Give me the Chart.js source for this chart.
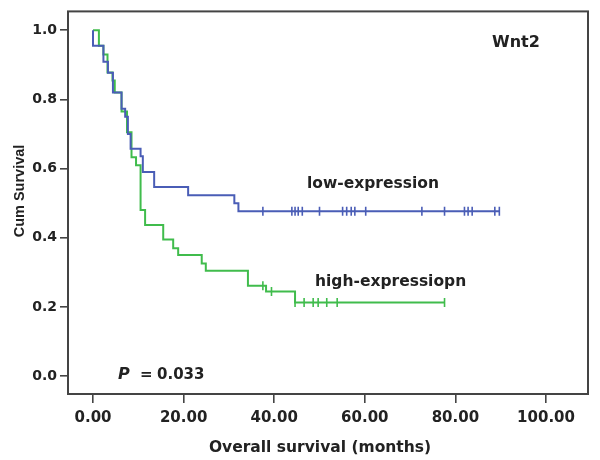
<!DOCTYPE html>
<html><head><meta charset="utf-8">
<script src="https://cdn.jsdelivr.net/npm/chart.js@4.4.1/dist/chart.umd.min.js"></script>
<style>html,body{margin:0;padding:0;background:#fff}#wrap{width:600px;height:460px}</style>
</head><body><div id="wrap"><canvas id="c" width="600" height="460"></canvas></div>
<script>
// ---- data ----
const lowTimes = [0, 0, 2.3, 3.3, 4.4, 6.3, 7.1, 7.7, 8.3, 10.5, 11.0, 13.5, 21.0, 31.2, 32.1, 89.7];
const lowSurv  = [1.0, 0.955, 0.909, 0.877, 0.82, 0.773, 0.75, 0.70, 0.657, 0.636, 0.59, 0.547, 0.523, 0.5, 0.477, 0.477];
const lowCensorTimes = [37.5, 43.9, 44.6, 45.3, 46.2, 50.0, 55.1, 56.0, 57.0, 57.8, 60.2, 72.6, 77.6, 82.0, 82.8, 83.7, 88.7, 89.7];

const highTimes = [0, 1.3, 2.3, 3.2, 4.3, 4.8, 6.3, 7.5, 8.5, 9.5, 10.5, 11.5, 15.5, 17.7, 18.8, 24.0, 24.9, 34.2, 38.2, 44.6, 77.6];
const highSurv  = [1.0, 0.955, 0.93, 0.878, 0.855, 0.82, 0.765, 0.705, 0.633, 0.61, 0.48, 0.437, 0.395, 0.37, 0.35, 0.326, 0.305, 0.261, 0.245, 0.213, 0.213];
const highCensorTimes = [37.5, 39.4, 44.6, 46.6, 48.6, 49.7, 51.6, 53.9, 77.6];

const xTickValues = [0, 20, 40, 60, 80, 100];
const xTickLabels = ["0.00", "20.00", "40.00", "60.00", "80.00", "100.00"];
const yTickValues = [0, 0.2, 0.4, 0.6, 0.8, 1.0];
const yTickLabels = ["0.0", "0.2", "0.4", "0.6", "0.8", "1.0"];

const seriesNames = ["low-expression", "high-expressiopn"];
const panelTitle = "Wnt2";
const pLabel = "P";
const pValue = "0.033";
const xTitle = "Overall survival (months)";
const yTitle = "Cum Survival";

// ---- build library tables ----
const BLUE = '#4A5DB6', GREEN = '#40BC4C', INK = '#222';
function curve(ts, vs) { return ts.map((t, i) => ({x: t, y: vs[i]})); }
function survAt(ts, vs, t) { let v = vs[0]; for (let i = 0; i < ts.length; i++) { if (ts[i] <= t) v = vs[i]; } return v; }
function censors(cts, ts, vs) { return cts.map(t => ({x: t, y: survAt(ts, vs, t)})); }

const FONT = '"DejaVu Sans", Verdana, sans-serif';

const textPlugin = {
  id: 'frameText',
  afterDraw(chart) {
    const ctx = chart.ctx, a = chart.chartArea;
    ctx.save();
    ctx.strokeStyle = '#444'; ctx.lineWidth = 2;
    ctx.strokeRect(a.left, a.top, a.right - a.left, a.bottom - a.top);
    ctx.fillStyle = INK;
    ctx.textBaseline = 'alphabetic';
    ctx.textAlign = 'left';
    ctx.font = 'bold 16px ' + FONT;
    ctx.fillText(panelTitle, 492, 47);
    ctx.font = 'bold 15.5px ' + FONT;
    ctx.fillText(seriesNames[0], 307, 188);
    ctx.fillText(seriesNames[1], 315, 286);
    ctx.font = 'italic bold 16px ' + FONT;
    ctx.fillText(pLabel, 118, 379);
    ctx.font = 'bold 15px ' + FONT;
    ctx.fillText('=', 140, 379);
    ctx.fillText(pValue, 157, 379);
    // axis titles
    ctx.textAlign = 'center';
    ctx.font = 'bold 15.5px ' + FONT;
    ctx.fillText(xTitle, 320, 452);
    ctx.save();
    ctx.translate(24, 191);
    ctx.rotate(-Math.PI / 2);
    ctx.font = 'bold 14.5px "Liberation Sans", Arial, sans-serif';
    ctx.fillText(yTitle, 0, 0);
    ctx.restore();
    ctx.restore();
  }
};

new Chart(document.getElementById('c'), {
  type: 'scatter',
  data: {
    datasets: [
      {label: seriesNames[0], data: curve(lowTimes, lowSurv), showLine: true, stepped: true,
       borderColor: BLUE, borderWidth: 2, pointRadius: 0, fill: false},
      {label: seriesNames[1], data: curve(highTimes, highSurv), showLine: true, stepped: true,
       borderColor: GREEN, borderWidth: 2, pointRadius: 0, fill: false},
      {label: 'low censored', data: censors(lowCensorTimes, lowTimes, lowSurv), showLine: false,
       pointStyle: 'line', rotation: 90, pointRadius: 4.5, borderColor: BLUE, borderWidth: 1.6, pointHoverRadius: 4.5},
      {label: 'high censored', data: censors(highCensorTimes, highTimes, highSurv), showLine: false,
       pointStyle: 'line', rotation: 90, pointRadius: 4.5, borderColor: GREEN, borderWidth: 1.6, pointHoverRadius: 4.5}
    ]
  },
  options: {
    responsive: false, animation: false, devicePixelRatio: 1,
    layout: {padding: {top: 8, right: 12, left: 0, bottom: 0}},
    plugins: {legend: {display: false}, tooltip: {enabled: false}},
    scales: {
      x: {
        type: 'linear', min: -5.52, max: 109.27,
        afterBuildTicks: s => { s.ticks = xTickValues.map(v => ({value: v})); },
        afterFit: s => { s.height = 66; },
        grid: {drawOnChartArea: false, drawTicks: true, tickLength: 9, color: '#444', tickColor: '#444', lineWidth: 1.6},
        border: {display: false},
        ticks: {padding: 6, color: INK, font: {family: FONT, size: 15, weight: 'bold'},
                callback: v => xTickLabels[xTickValues.indexOf(v)], maxRotation: 0, autoSkip: false}
      },
      y: {
        type: 'linear', min: -0.0516, max: 1.0544,
        afterBuildTicks: s => { s.ticks = yTickValues.map(v => ({value: v})); },
        afterFit: s => { s.width = 68; },
        grid: {drawOnChartArea: false, drawTicks: true, tickLength: 8, color: '#444', tickColor: '#444', lineWidth: 1.6},
        border: {display: false},
        ticks: {padding: 3, color: INK, font: {family: FONT, size: 14, weight: 'bold'},
                callback: v => yTickLabels[yTickValues.indexOf(v)], autoSkip: false}
      }
    }
  },
  plugins: [textPlugin]
});
</script>
</body></html>
